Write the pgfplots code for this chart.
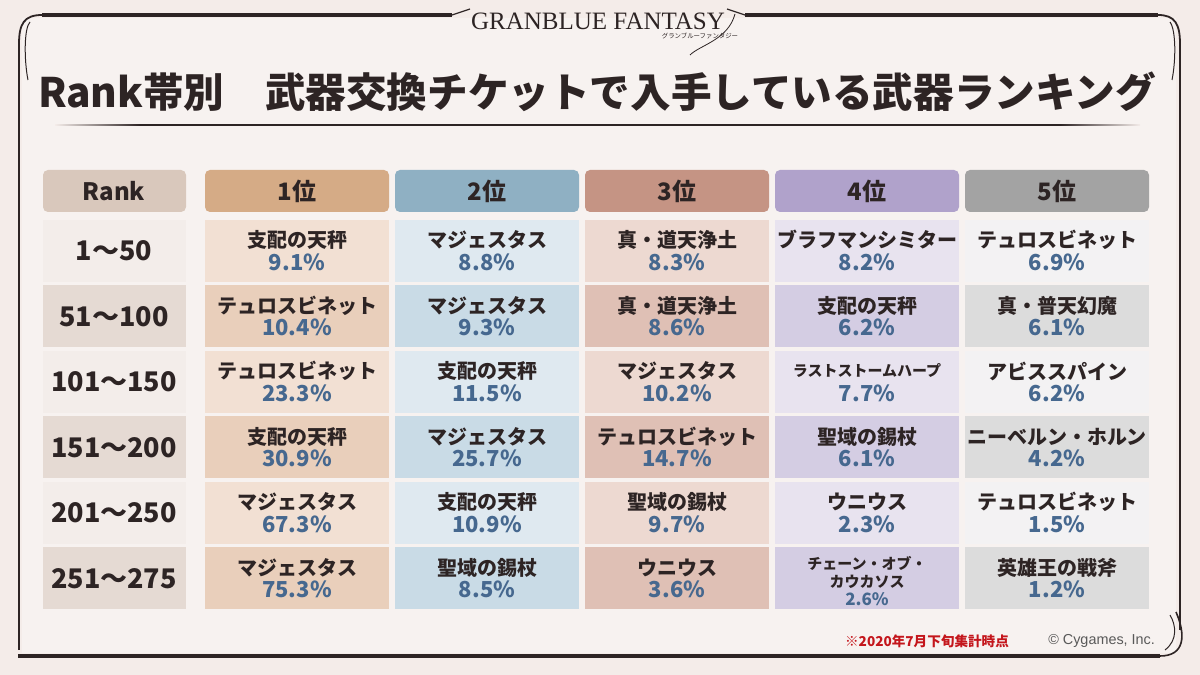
\documentclass[border=0pt]{standalone}
\usepackage{fontspec}
\setmainfont{Noto Sans CJK JP}
\newfontfamily\logofont{Liberation Serif}
\newfontfamily\latinsans{Liberation Sans}
\usepackage{pgfplots}
\pgfplotsset{compat=1.18}
\usepackage{pgfplotstable}

\definecolor{bg}{HTML}{F4ECE9}
\definecolor{ink}{HTML}{2D2424}
\definecolor{pctblue}{HTML}{46688F}
\definecolor{footred}{HTML}{C4161C}
% header colours: rank, 1st .. 5th
\definecolor{h0}{HTML}{D9C8BC}
\definecolor{h1}{HTML}{D5AB86}
\definecolor{h2}{HTML}{8FB0C3}
\definecolor{h3}{HTML}{C59484}
\definecolor{h4}{HTML}{B0A2CB}
\definecolor{h5}{HTML}{A3A3A3}
% light / dark rows
\definecolor{l0}{HTML}{F3EDEA}\definecolor{d0}{HTML}{E5DAD3}
\definecolor{l1}{HTML}{F2E0D3}\definecolor{d1}{HTML}{E9CFBB}
\definecolor{l2}{HTML}{DFE9F0}\definecolor{d2}{HTML}{C9DBE6}
\definecolor{l3}{HTML}{EDD9D1}\definecolor{d3}{HTML}{DFC0B5}
\definecolor{l4}{HTML}{E8E3EF}\definecolor{d4}{HTML}{D4CDE3}
\definecolor{l5}{HTML}{F3F2F3}\definecolor{d5}{HTML}{DCDCDC}

% r = rank band (row), c = place (column); the last two rows get their own style
\pgfplotstableread[col sep=comma]{
r,c,name,pct
1,1,支配の天秤,9.1
1,2,マジェスタス,8.8
1,3,真・道天浄土,8.3
1,4,ブラフマンシミター,8.2
1,5,テュロスビネット,6.9
2,1,テュロスビネット,10.4
2,2,マジェスタス,9.3
2,3,真・道天浄土,8.6
2,4,支配の天秤,6.2
2,5,真・普天幻魔,6.1
3,1,テュロスビネット,23.3
3,2,支配の天秤,11.5
3,3,マジェスタス,10.2
3,5,アビススパイン,6.2
4,1,支配の天秤,30.9
4,2,マジェスタス,25.7
4,3,テュロスビネット,14.7
4,4,聖域の錫杖,6.1
4,5,ニーベルン・ホルン,4.2
5,1,マジェスタス,67.3
5,2,支配の天秤,10.9
5,3,聖域の錫杖,9.7
5,4,ウニウス,2.3
5,5,テュロスビネット,1.5
6,1,マジェスタス,75.3
6,2,聖域の錫杖,8.5
6,3,ウニウス,3.6
6,5,英雄王の戦斧,1.2
3,4,ラストストームハープ,7.7
6,4,チェーン・オブ・\\カウカソス,2.6
}\weapons

\pgfplotstableread[col sep=comma]{
r,band
1,1～50
2,51～100
3,101～150
4,151～200
5,201～250
6,251～275
}\bands

\pgfplotstableread[col sep=comma]{
x,head
114,Rank
297,1位
487,2位
677,3位
867,4位
1057,5位
}\heads

\begin{document}
\begin{tikzpicture}
% frame and cells, 1 unit = 1 px of the 1200x675 picture
\begin{scope}[shift={(0,337.5pt)}, x=0.5pt, y=-0.5pt]
  \fill[bg] (0,0) rectangle (1200,675);
  \fill[white, opacity=0.35] (22,18) rectangle (1176,653);
  % ornamental frame
  \draw[ink, line width=1.6pt] (42,15) -- (452,15);
  \draw[ink, line width=1.6pt] (745,15) -- (1158,15);
  \draw[ink, line width=0.9pt] (42,15) .. controls (24,15) and (19,24) .. (19,44) -- (19,650);
  \draw[ink, line width=0.5pt] (30,22) .. controls (24,28) and (24,60) .. (28,80);
  \draw[ink, line width=0.9pt] (1158,15) .. controls (1175,15) and (1180,24) .. (1180,44) -- (1180,630);
  \draw[ink, line width=0.5pt] (1170,22) .. controls (1176,30) and (1176,60) .. (1172,80);
  \draw[ink, line width=1.6pt] (18,656) -- (1160,656);
  \draw[ink, line width=0.8pt] (1160,656) .. controls (1185,656) and (1186,635) .. (1176,612);
  \draw[ink, line width=0.5pt] (1165,650) .. controls (1178,640) and (1176,625) .. (1170,615);
  \draw[ink, line width=0.6pt] (452,15) -- (470,9);
  \draw[ink, line width=0.6pt] (745,15) -- (727,9);
  % logo
  \node[ink, font=\logofont\fontsize{12.5}{12.5}\selectfont] at (598,21) {GRANBLUE FANTASY};
  \node[ink, font=\fontsize{3.2}{3.2}\selectfont] at (700,36) {グランブルーファンタジー};
  \draw[ink, line width=0.4pt] (735,14) .. controls (728,40) and (700,45) .. (690,55);
  % title rule
  \draw[ink, line width=1.2pt] (140,125) -- (1060,125);
  \shade[left color=bg, right color=ink] (55,124.2) rectangle (140,125.8);
  \shade[left color=ink, right color=bg] (1060,124.2) rectangle (1140,125.8);
  % header row
  \fill[h0, rounded corners=2.5pt] (43,170) rectangle (186,212);
  \foreach \c in {1,...,5}
    \fill[h\c, rounded corners=2.5pt] ({205+190*(\c-1)},170) rectangle ({389+190*(\c-1)},212);
  % body cells
  \foreach \r in {1,...,6} {
    \pgfmathsetmacro\top{220+65.5*(\r-1)}
    \pgfmathtruncatemacro\odd{mod(\r,2)}
    \ifnum\odd=1 \def\tone{l}\else\def\tone{d}\fi
    \fill[\tone0] (43,\top) rectangle (186,\top+62);
    \foreach \c in {1,...,5}
      \fill[\tone\c] ({205+190*(\c-1)},\top) rectangle ({389+190*(\c-1)},\top+62);
  }
  % footer
  \node[anchor=east, text=footred, font=\bfseries\fontsize{6.8}{7}\selectfont] at (1016,641) {※2020年7月下旬集計時点};
  \node[anchor=east, text=black!65, font=\latinsans\fontsize{7.2}{8}\selectfont] at (1162,641) {© Cygames, Inc.};
\end{scope}

\begin{axis}[
  at={(0,0)}, anchor=south west,
  scale only axis, width=600pt, height=337.5pt,
  xmin=0, xmax=1200, ymin=0, ymax=675, y dir=reverse,
  hide axis, clip=false,
  point meta=explicit symbolic,
]
% title
\addplot[only marks, mark=none, nodes near coords,
  every node near coord/.append style={anchor=center, text=ink,
    font=\bfseries\fontsize{20.3}{22}\selectfont}]
  coordinates {(597,92) [Rank帯別　武器交換チケットで入手している武器ランキング]};
% column heads
\addplot[only marks, mark=none, nodes near coords,
  every node near coord/.append style={anchor=center, text=ink,
    font=\bfseries\fontsize{12}{14}\selectfont}]
  table[x=x, y expr=191, meta=head] {\heads};
% rank bands
\addplot[only marks, mark=none, nodes near coords,
  every node near coord/.append style={anchor=center, text=ink,
    font=\bfseries\fontsize{13.5}{16}\selectfont}]
  table[x expr=114, y expr={251+65.5*(\thisrow{r}-1)}, meta=band] {\bands};
% weapon names
\addplot[only marks, mark=none, nodes near coords,
  restrict expr to domain={\coordindex}{0:27},
  every node near coord/.append style={anchor=center, text=ink,
    font=\bfseries\fontsize{10}{12}\selectfont}]
  table[x expr={297+190*(\thisrow{c}-1)}, y expr={240+65.5*(\thisrow{r}-1)}, meta=name] {\weapons};
\addplot[only marks, mark=none, nodes near coords,
  restrict expr to domain={\coordindex}{28:28},
  every node near coord/.append style={anchor=center, text=ink,
    font=\bfseries\fontsize{7.5}{9}\selectfont}]
  table[x expr={297+190*(\thisrow{c}-1)}, y expr={240+65.5*(\thisrow{r}-1)}, meta=name] {\weapons};
\addplot[only marks, mark=none, nodes near coords,
  restrict expr to domain={\coordindex}{29:29},
  every node near coord/.append style={anchor=center, text=ink, align=center,
    font=\bfseries\fontsize{7.5}{9}\selectfont}]
  table[x expr={297+190*(\thisrow{c}-1)}, y expr={244.5+65.5*(\thisrow{r}-1)}, meta=name] {\weapons};
% shares
\addplot[only marks, mark=none, nodes near coords={\pgfplotspointmeta\%},
  restrict expr to domain={\coordindex}{0:28},
  every node near coord/.append style={anchor=center, text=pctblue,
    font=\bfseries\fontsize{11}{13}\selectfont}]
  table[x expr={297+190*(\thisrow{c}-1)}, y expr={262+65.5*(\thisrow{r}-1)}, meta=pct] {\weapons};
\addplot[only marks, mark=none, nodes near coords={\pgfplotspointmeta\%},
  restrict expr to domain={\coordindex}{29:29},
  every node near coord/.append style={anchor=center, text=pctblue,
    font=\bfseries\fontsize{8.5}{10}\selectfont}]
  table[x expr={297+190*(\thisrow{c}-1)}, y expr={272+65.5*(\thisrow{r}-1)}, meta=pct] {\weapons};
\end{axis}
\end{tikzpicture}
\end{document}
